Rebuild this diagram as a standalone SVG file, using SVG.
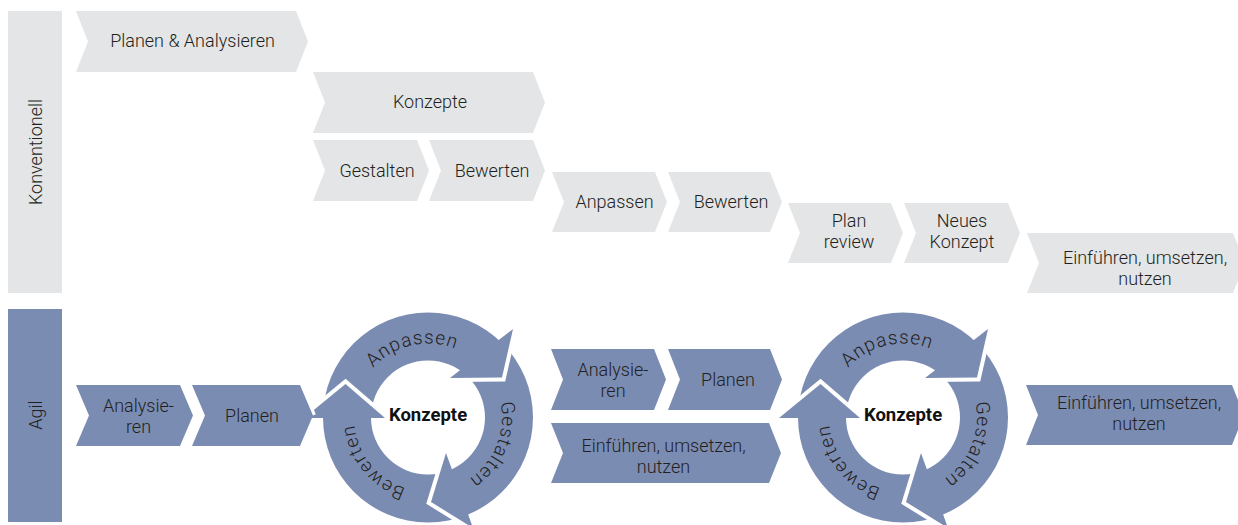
<svg xmlns="http://www.w3.org/2000/svg" xmlns:xlink="http://www.w3.org/1999/xlink" width="1238" height="525" viewBox="0 0 1238 525">
<style>
.g{fill:#e4e5e6}
.b{fill:#7b8cb3}
.t{font-family:Roboto,"Liberation Sans",sans-serif;font-size:18px;font-weight:300;fill:#231f20;text-anchor:middle}
.k{font-family:Roboto,"Liberation Sans",sans-serif;font-size:18.5px;font-weight:bold;fill:#111;text-anchor:middle}
.r{font-family:Roboto,"Liberation Sans",sans-serif;font-size:19px;font-weight:300;fill:#231f20;letter-spacing:1px}
.gap{fill:none;stroke:#fff;stroke-width:8;stroke-linejoin:miter}
</style>
<defs>
<path id="c1" d="M428 491.5A74 74 0 1 1 428 343.5A74 74 0 1 1 428 491.5"/>
<path id="c2" d="M903 491.5A74 74 0 1 1 903 343.5A74 74 0 1 1 903 491.5"/>
<g id="cycle">
<path class="b" fill-rule="evenodd" d="M105 0A105 105 0 1 1 -105 0A105 105 0 1 1 105 0ZM57 0A57 57 0 1 0 -57 0A57 57 0 1 0 57 0Z"/>
<polyline class="gap" points="-124,0.5 -82.5,-33.5 -43,0.5"/>
<polygon class="b" points="-124,0.5 -82.5,-33.5 -43,0.5"/>
<polyline class="gap" points="85,-88.5 74,-40 22,-39.5"/>
<polygon class="b" points="85,-88.5 74,-40 22,-39.5"/>
<polyline class="gap" points="18,35.5 3,84.5 45,110.5"/>
<polygon class="b" points="18,35.5 3,84.5 45,110.5"/>
</g>
</defs>

<g id="lane-konventionell">
<rect class="g" x="8" y="11" width="54" height="282"/>
<text class="t" transform="translate(41.5 152) rotate(-90)">Konventionell</text>
</g>
<g id="lane-agil">
<rect class="b" x="8" y="309" width="54" height="213"/>
<text class="t" transform="translate(41.5 415) rotate(-90)">Agil</text>
</g>

<g id="k-planen-analysieren">
<polygon class="g" points="76,11 296,11 308,41.5 296,72 76,72 88,41.5"/>
<text class="t" x="192.5" y="47">Planen &amp; Analysieren</text>
</g>
<g id="k-konzepte">
<polygon class="g" points="313,72 533,72 545,102.5 533,133 313,133 325,102.5"/>
<text class="t" x="430" y="108">Konzepte</text>
</g>
<g id="k-gestalten">
<polygon class="g" points="313,140 417,140 429,170.5 417,201 313,201 325,170.5"/>
<text class="t" x="377" y="177">Gestalten</text>
</g>
<g id="k-bewerten1">
<polygon class="g" points="429,140 533,140 545,170.5 533,201 429,201 441,170.5"/>
<text class="t" x="492" y="177">Bewerten</text>
</g>
<g id="k-anpassen">
<polygon class="g" points="552,172 655,172 667,202 655,232 552,232 564,202"/>
<text class="t" x="614.5" y="207.5">Anpassen</text>
</g>
<g id="k-bewerten2">
<polygon class="g" points="668,172 770,172 782,202 770,232 668,232 680,202"/>
<text class="t" x="731" y="207.5">Bewerten</text>
</g>
<g id="k-plan-review">
<polygon class="g" points="788,203 891,203 903,233 891,263 788,263 800,233"/>
<text class="t" x="849" y="227">Plan</text>
<text class="t" x="849" y="248">review</text>
</g>
<g id="k-neues-konzept">
<polygon class="g" points="904,203 1008,203 1020,233 1008,263 904,263 916,233"/>
<text class="t" x="962" y="227">Neues</text>
<text class="t" x="962" y="248">Konzept</text>
</g>
<g id="k-einfuehren">
<polygon class="g" points="1027,233 1233,233 1245,263 1233,293 1027,293 1039,263"/>
<text class="t" x="1145" y="263.5">Einführen, umsetzen,</text>
<text class="t" x="1145" y="284.5">nutzen</text>
</g>

<g id="a-analysieren1">
<polygon class="b" points="76,385 180,385 193,415.5 180,446 76,446 89,415.5"/>
<text class="t" x="138.5" y="411.5">Analysie-</text>
<text class="t" x="138.5" y="432.5">ren</text>
</g>
<g id="a-zyklus1">
<use xlink:href="#cycle" transform="translate(428 417.5)"/>
<text class="r"><textPath xlink:href="#c1" startOffset="65.9" text-anchor="middle">Bewerten</textPath></text>
<text class="r"><textPath xlink:href="#c1" startOffset="215.7" text-anchor="middle">Anpassen</textPath></text>
<text class="r"><textPath xlink:href="#c1" startOffset="377.1" text-anchor="middle">Gestalten</textPath></text>
<text class="k" x="428" y="421">Konzepte</text>
</g>
<g id="a-planen1">
<polyline points="300,385 313,415.5" fill="none" stroke="#fff" stroke-width="6"/>
<polygon class="b" points="192,385 300,385 313,415.5 300,446 192,446 205,415.5"/>
<text class="t" x="252" y="421.5">Planen</text>
</g>
<g id="a-analysieren2">
<polygon class="b" points="551,349 654,349 666,379.5 654,410 551,410 563,379.5"/>
<text class="t" x="613" y="376">Analysie-</text>
<text class="t" x="613" y="397">ren</text>
</g>
<g id="a-planen2">
<polygon class="b" points="668,349 770,349 782,379.5 770,410 668,410 680,379.5"/>
<text class="t" x="728" y="386">Planen</text>
</g>
<g id="a-einfuehren1">
<polygon class="b" points="551,423 769,423 781,453 769,483 551,483 563,453"/>
<text class="t" x="663.5" y="451.5">Einführen, umsetzen,</text>
<text class="t" x="663.5" y="472.5">nutzen</text>
</g>
<g id="a-zyklus2">
<use xlink:href="#cycle" transform="translate(903 417.5)"/>
<text class="r"><textPath xlink:href="#c2" startOffset="65.9" text-anchor="middle">Bewerten</textPath></text>
<text class="r"><textPath xlink:href="#c2" startOffset="215.7" text-anchor="middle">Anpassen</textPath></text>
<text class="r"><textPath xlink:href="#c2" startOffset="377.1" text-anchor="middle">Gestalten</textPath></text>
<text class="k" x="903" y="421">Konzepte</text>
</g>
<g id="a-einfuehren2">
<polygon class="b" points="1026,385 1232,385 1244,415 1232,445 1026,445 1038,415"/>
<text class="t" x="1139" y="408.5">Einführen, umsetzen,</text>
<text class="t" x="1139" y="430">nutzen</text>
</g>
<g id="connectors"/>
</svg>
